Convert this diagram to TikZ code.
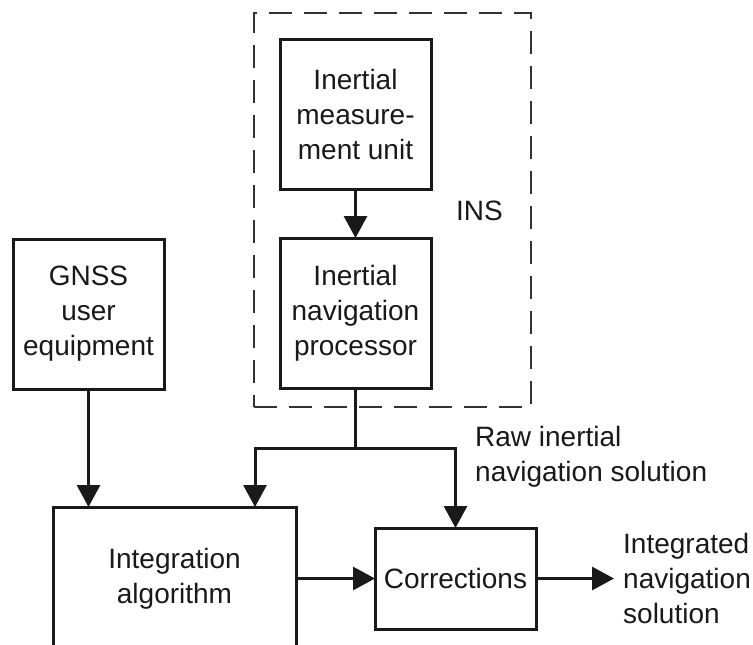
\documentclass[tikz,border=0pt]{standalone}
\usepackage{fontspec}
\setmainfont{Liberation Sans}
\usetikzlibrary{arrows.meta}
\begin{document}
\begin{tikzpicture}[x=1pt,y=-1pt,
  every node/.style={font=\fontsize{28}{35}\selectfont, text=black!90},
  blk/.style={draw=black!90, line width=3pt, align=center, inner sep=0pt, outer sep=0pt},
  lbl/.style={align=left, inner sep=0pt, anchor=west},
  conn/.style={draw=black!90, line width=3pt},
  arr/.style={conn, -{Triangle[length=22pt,width=23pt]}}]
\clip (0,0) rectangle (753,645);
\fill[white] (0,0) rectangle (753,645);
% dashed INS box
\node[draw=black!80, line width=2.6pt, dash pattern=on 23pt off 12pt, minimum width=277pt, minimum height=394pt, inner sep=0pt] (ins) at (392.5,210) {};
\node[inner sep=0pt] (inslbl) at (479.5,211) {INS};
% blocks
\node[blk, minimum width=151pt, minimum height=150pt] (imu) at (355.5,114) {Inertial\\measure-\\ment unit};
\node[blk, minimum width=151pt, minimum height=150pt] (inp) at (355.5,313) {Inertial\\navigation\\processor};
\node[blk, minimum width=151pt, minimum height=150pt] (gnss) at (88.5,314) {GNSS\\user\\equipment};
\node[blk, minimum width=243pt, minimum height=143pt] (intg) at (174.5,578.5) {Integration\\algorithm};
\node[blk, minimum width=161pt, minimum height=101pt] (corr) at (455.5,578.5) {Corrections};
% labels
\node[lbl] (raw) at (475,457) {Raw inertial\\navigation solution};
\node[lbl] (out) at (623,578) {Integrated\\navigation\\solution};
% connectors
\coordinate (junc) at (355.5,448);
\coordinate (lft) at (255,448);
\coordinate (rgt) at (455.5,448);
\coordinate (outend) at (614,578.5);
\path[arr] (imu) -- (inp);
\path[arr] (gnss.south) -- (gnss.south |- intg.north);
\path[conn] (inp.south) -- (junc);
\path[arr] (junc) -- (lft) -- (lft |- intg.north);
\path[arr] (junc) -- (rgt) -- (corr.north);
\path[arr] (intg.east |- corr.west) -- (corr.west);
\path[arr] (corr.east) -- (outend);
\end{tikzpicture}
\end{document}
